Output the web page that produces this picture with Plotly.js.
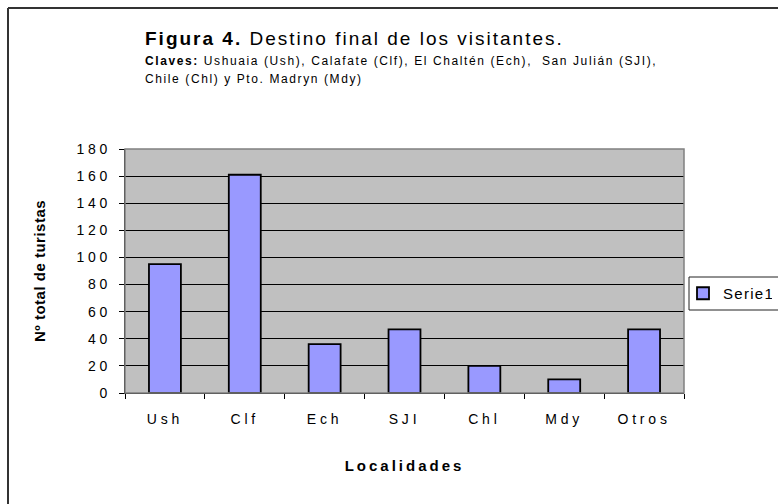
<!DOCTYPE html>
<html>
<head>
<meta charset="utf-8">
<script src="https://cdn.plot.ly/plotly-3.0.1.min.js"></script>
<style>
body{margin:0;padding:0;background:#fff}
#chart{width:778px;height:504px}
#chart .xtick text, #chart .ytick text { letter-spacing: 3.8px; }
#chart .xtitle { letter-spacing: 3px; }
#chart .ytitle { letter-spacing: 0.5px; }
#chart .legendtext { letter-spacing: 1.3px; }
</style>
</head>
<body>
<div id="chart"></div>
<script>
const categories = ["Ush", "Clf", "Ech", "SJI", "Chl", "Mdy", "Otros"];
const serie1 = [95, 161, 36, 47, 20, 10, 47];
const yTicks = [0, 20, 40, 60, 80, 100, 120, 140, 160, 180];
const seriesName = "Serie1";

const W = 778, H = 504;
const L = 125, R = 94, T = 149, B = 111;
const pw = W - L - R, ph = H - T - B;
const px = x => (x - L) / pw;
const py = y => (H - B - y) / ph;
const FONT = "Liberation Sans, Arial, sans-serif";
const sp = (s, t) => '<span style="letter-spacing:' + s + 'px">' + t + '</span>';

const trace = {
  type: "bar",
  x: categories,
  y: serie1,
  name: seriesName,
  marker: {color: "#9999FF", line: {color: "#000000", width: 1.8}},
  showlegend: true
};

const layout = {
  width: W, height: H,
  margin: {l: L, r: R, t: T, b: B, pad: 0, autoexpand: false},
  paper_bgcolor: "#ffffff",
  plot_bgcolor: "#C0C0C0",
  bargap: 0.6,
  font: {family: FONT, color: "#000"},
  showlegend: true,
  legend: {
    x: px(683), y: py(293.5), xanchor: "left", yanchor: "middle",
    bgcolor: "rgba(0,0,0,0)", borderwidth: 0,
    font: {size: 15, family: FONT}
  },
  xaxis: {
    type: "category",
    tickson: "boundaries",
    ticks: "outside", ticklen: 5, tickcolor: "#000", tickwidth: 1,
    ticklabelstandoff: 13,
    showline: true, linecolor: "#000", linewidth: 1,
    showgrid: false,
    tickfont: {size: 14, family: FONT},
    title: {text: "<b>Localidades</b>", font: {size: 15, family: FONT}, standoff: 34},
    automargin: false
  },
  yaxis: {
    range: [0, 180],
    tickvals: yTicks,
    ticks: "outside", ticklen: 5, tickcolor: "#000", tickwidth: 1,
    ticklabelstandoff: 5,
    showline: true, linecolor: "#000", linewidth: 1,
    showgrid: true, gridcolor: "#000", gridwidth: 1,
    zeroline: false,
    tickfont: {size: 14, family: FONT},
    title: {text: "<b>Nº total de turistas</b>", font: {size: 15, family: FONT}, standoff: 38},
    automargin: false
  },
  shapes: [
    {type: "rect", xref: "paper", yref: "paper", x0: 0, x1: 1, y0: 0, y1: 1,
     line: {color: "#808080", width: 1.5}, fillcolor: "rgba(0,0,0,0)", layer: "above"},
    {type: "rect", xref: "paper", yref: "paper", x0: px(689), x1: px(800), y0: py(310), y1: py(277),
     line: {color: "#222", width: 1}, fillcolor: "#ffffff", layer: "below"},
    {type: "line", xref: "paper", yref: "paper", x0: px(8), x1: px(800), y0: py(8), y1: py(8),
     line: {color: "#333", width: 2}},
    {type: "line", xref: "paper", yref: "paper", x0: px(8), x1: px(8), y0: py(8), y1: py(520),
     line: {color: "#333", width: 2}}
  ],
  annotations: [
    {xref: "paper", yref: "paper", x: px(143), y: py(38.5), xanchor: "left", yanchor: "middle",
     text: sp(2, "<b>Figura 4.</b> Destino final de los visitantes."), showarrow: false,
     font: {size: 19, family: FONT}},
    {xref: "paper", yref: "paper", x: px(143), y: py(60.5), xanchor: "left", yanchor: "middle",
     text: sp(1.6, "<b>Claves:</b> Ushuaia (Ush), Calafate (Clf), El Chaltén (Ech),  San Julián (SJI),"), showarrow: false,
     font: {size: 12, family: FONT}},
    {xref: "paper", yref: "paper", x: px(143), y: py(78.5), xanchor: "left", yanchor: "middle",
     text: sp(1.6, "Chile (Chl) y Pto. Madryn (Mdy)"), showarrow: false,
     font: {size: 12, family: FONT}}
  ]
};

Plotly.newPlot("chart", [trace], layout, {displayModeBar: false, staticPlot: true});
</script>
</body>
</html>
